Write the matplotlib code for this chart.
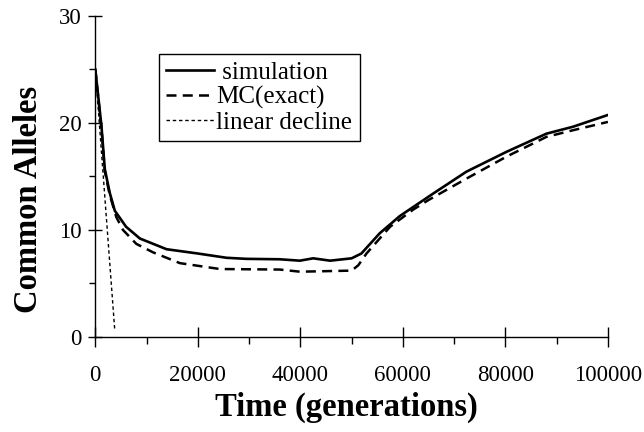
import matplotlib.pyplot as plt
from matplotlib.ticker import MultipleLocator

# datos
sim_x = [0, 1200, 1850, 2800, 3800, 6000, 8700, 13900, 20000, 25600, 29500,
         36000, 39900, 42500, 45800, 50000, 51900, 55500, 59400, 65900,
         72400, 80200, 88000, 93200, 100000]
sim_y = [25, 19.7, 15.7, 13.5, 11.8, 10.3, 9.2, 8.2, 7.8, 7.4, 7.3,
         7.26, 7.13, 7.35, 7.13, 7.35, 7.8, 9.7, 11.3, 13.4,
         15.45, 17.3, 19.0, 19.65, 20.75]

mc_x = [0, 1200, 1850, 2800, 4100, 5400, 8000, 11300, 16500, 24300, 36000,
        39900, 45000, 50000, 51300, 52900, 57500, 62000, 65000, 72400,
        80200, 88000, 93000, 100000]
mc_y = [25, 19.5, 15.5, 13.3, 11.2, 10.0, 8.7, 7.9, 6.9, 6.35, 6.3,
        6.1, 6.15, 6.2, 6.7, 7.8, 10.3, 11.9, 12.8, 14.8,
        16.85, 18.7, 19.3, 20.1]

lin_x = [0, 3800]
lin_y = [25, 0.6]

plt.rcParams['font.family'] = ['Liberation Serif', 'DejaVu Serif']

fig = plt.figure(figsize=(6.44, 4.32), dpi=100)
ax = fig.add_axes([0.148, 0.22, 0.796, 0.743])

ax.plot(sim_x, sim_y, color='black', lw=1.9, label=' simulation')
ax.plot(mc_x, mc_y, color='black', lw=1.8, linestyle=(0, (4, 2.5)), label='MC(exact)')
ax.plot(lin_x, lin_y, color='black', lw=1.0, linestyle=(0, (2.5, 2)), label='linear decline')

ax.set_xlim(0, 100000)
ax.set_ylim(0, 30)

ax.spines['top'].set_visible(False)
ax.spines['right'].set_visible(False)
ax.spines['left'].set_linewidth(1)
ax.spines['bottom'].set_linewidth(1)

ax.xaxis.set_major_locator(MultipleLocator(20000))
ax.xaxis.set_minor_locator(MultipleLocator(10000))
ax.yaxis.set_major_locator(MultipleLocator(10))
ax.yaxis.set_minor_locator(MultipleLocator(5))

ax.tick_params(axis='x', which='major', direction='inout', length=14, width=1,
               labelsize=16.5, pad=13)
ax.tick_params(axis='x', which='minor', direction='out', length=5, width=1)
ax.tick_params(axis='y', which='major', direction='inout', length=10, width=1,
               labelsize=16.5, pad=5)
ax.tick_params(axis='y', which='minor', direction='out', length=4, width=1)

ax.set_xlabel('Time (generations)', fontsize=23.5, fontweight='bold')
ax.set_ylabel('Common Alleles', fontsize=23.5, fontweight='bold')
ax.xaxis.set_label_coords(0.49, -0.172)
ax.yaxis.set_label_coords(-0.1, 0.427)

leg = ax.legend(loc='upper left', bbox_to_anchor=(0.124, 0.8816),
                fontsize=18, frameon=True, fancybox=False, framealpha=1,
                edgecolor='black', borderpad=0.3, labelspacing=0.08,
                handlelength=1.9, handletextpad=0.1, borderaxespad=0)
leg.get_frame().set_linewidth(1)

fig.savefig('out.png', dpi=100)
